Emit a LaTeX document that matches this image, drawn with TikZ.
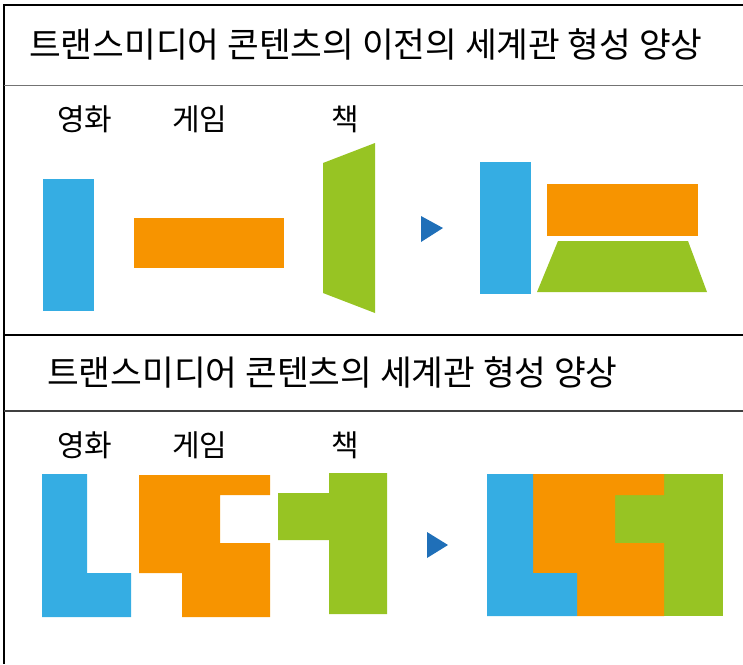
\documentclass[tikz,border=0pt]{standalone}
\usepackage{fontspec}
\newfontfamily\kr{Noto Sans CJK KR}
\definecolor{cblue}{HTML}{35ADE3}
\definecolor{corange}{HTML}{F79400}
\definecolor{cgreen}{HTML}{97C423}
\definecolor{carrow}{HTML}{1F6FB8}
\tikzset{
  title/.style={anchor=west, inner sep=0pt, font=\kr\fontsize{34.5}{40}\selectfont},
  lbl/.style={anchor=west, inner sep=0pt, font=\kr\fontsize{30}{34}\selectfont},
  arrowtri/.style={fill=carrow, draw=none},
}
\begin{document}
\begin{tikzpicture}[x=1pt,y=-1pt]
\useasboundingbox (0,0) rectangle (743,664);
% frame
\draw[line width=1.5pt] (743,5) -- (4,5) -- (4,664);
\draw[line width=1pt, draw=black!55] (4,85) -- (743,85);
\draw[line width=2pt] (4,335) -- (743,335);
\draw[line width=1.2pt, draw=black!75] (4,411) -- (743,411);
% titles
\node[title] (t1) at (29,44) {트랜스미디어 콘텐츠의 이전의 세계관 형성 양상};
\node[title] (t2) at (47,372) {트랜스미디어 콘텐츠의 세계관 형성 양상};
% labels row 1
\node[lbl] (m1) at (57,119) {영화};
\node[lbl] (g1) at (172,119) {게임};
\node[lbl] (b1) at (331,119) {책};
% labels row 2
\node[lbl] (m2) at (57,445) {영화};
\node[lbl] (g2) at (172,445) {게임};
\node[lbl] (b2) at (331,445) {책};
% row 1 shapes
\fill[cblue] (43,179) rectangle (94,311);
\fill[corange] (134,218) rectangle (284,268);
\fill[cgreen] (323,163) -- (375,143) -- (375,313) -- (323,293) -- cycle;
\fill[arrowtri] (421,216) -- (443,228) -- (421,242) -- cycle;
\fill[cblue] (480,162) rectangle (531,294);
\fill[corange] (547,184) rectangle (698,236);
\fill[cgreen] (558,241) -- (688,241) -- (707,292) -- (537,292) -- cycle;
% row 2 shapes
\fill[cblue] (42,474) -- (87,474) -- (87,573) -- (131,573) -- (131,617) -- (42,617) -- cycle;
\fill[corange] (139,475) -- (270,475) -- (270,495) -- (220,495) -- (220,543) -- (270,543) -- (270,617) -- (182,617) -- (182,573) -- (139,573) -- cycle;
\fill[cgreen] (329,473) -- (387,473) -- (387,614) -- (329,614) -- (329,540) -- (278,540) -- (278,493) -- (329,493) -- cycle;
\fill[arrowtri] (427,532) -- (448,545) -- (427,558) -- cycle;
% row 2 result
\fill[cgreen] (487,474) rectangle (723,616);
\fill[corange] (533,474) -- (664,474) -- (664,495) -- (615,495) -- (615,543) -- (664,543) -- (664,616) -- (577,616) -- (577,573) -- (533,573) -- cycle;
\fill[cblue] (487,474) -- (533,474) -- (533,573) -- (577,573) -- (577,616) -- (487,616) -- cycle;
\end{tikzpicture}
\end{document}
